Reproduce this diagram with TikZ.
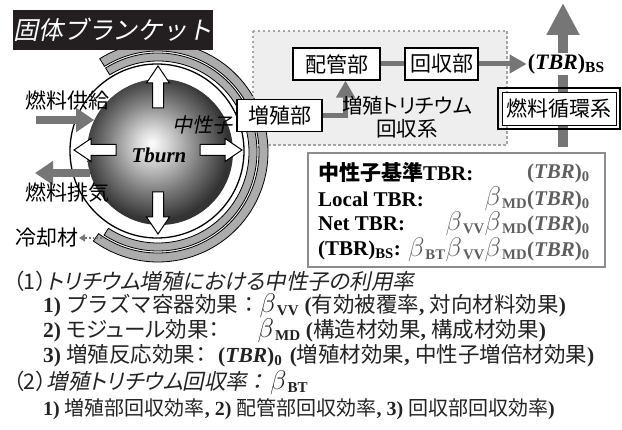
\documentclass[tikz,border=0pt]{standalone}
\usepackage{fontspec}
\setmainfont{Liberation Serif}[UprightFont=* Bold, ItalicFont=* Bold Italic,
  BoldFont=* Bold, BoldItalicFont=* Bold Italic]
\newfontfamily\jpfont{Noto Sans CJK JP}[RawFeature={+palt}]
\newfontfamily\jpwide{Noto Sans CJK JP}
\newfontfamily\jpslant{Noto Sans CJK JP}[FakeSlant=0.21,RawFeature={+palt}]
\newfontfamily\jptitle{Noto Sans CJK JP}[FakeSlant=0.21]
\usetikzlibrary{arrows.meta,positioning,calc}

\definecolor{titleblack}{RGB}{35,31,32}
\definecolor{flowgray}{RGB}{118,118,118}
\definecolor{bandgray}{RGB}{172,172,172}
\definecolor{boxfill}{RGB}{238,238,238}
\definecolor{dotgray}{RGB}{165,165,165}
\definecolor{framegray}{RGB}{140,140,140}
\definecolor{exprgray}{RGB}{95,95,95}
\definecolor{inkgray}{RGB}{35,35,35}

\pgfdeclareradialshading{plasmashade}{\pgfpoint{-3bp}{3bp}}{color(0bp)=(white); color(6bp)=(black!18); color(16bp)=(black!52); color(25bp)=(black!80); color(50bp)=(black!80)}

\newcommand\tbrsub[1]{(\textit{TBR})\textsubscript{#1}}
\newcommand\betasub[1]{\scalebox{1.3}{$\beta$}\kern1pt\textsubscript{#1}}

\begin{document}
\begin{tikzpicture}[x=1pt, y=-1pt,
    jp/.style={font=\jpfont\fontsize{21}{25}\selectfont},
    partbox/.style={draw, line width=1.2pt, fill=white, inner sep=0pt, minimum height=32pt, jp},
    flowline/.style={draw=flowgray, line width=5pt},
    flowarrow/.style={flowline, -{Triangle[width=18pt,length=17pt]}},
    fuelarrow/.style={draw=flowgray, line width=8pt, -{Triangle[width=23pt,length=18pt]}},
    band/.style={draw, line width=0.8pt, fill=bandgray},
    outarrow/.style={draw, line width=1pt, fill=white, line join=miter},
    tabletext/.style={font=\fontsize{21}{23}\selectfont, inner sep=0pt},
    listtext/.style={font=\fontsize{21.5}{23}\selectfont, text=inkgray, inner sep=0pt, anchor=west},
  ]
  \useasboundingbox (0,0) rectangle (622,430);

  % recovery system background
  \node[fill=boxfill, minimum width=254pt, minimum height=114pt, inner sep=0pt] (recovery) at (380,88) {};

  % blanket layers
  \coordinate (blanketc) at (158,152);
  \draw[band] (blanketc) ++(-122:110) arc[start angle=-122, end angle=126, radius=110]
    -- ++(126:-9) arc[start angle=126, end angle=-122, radius=101] -- cycle;
  \draw[band] (blanketc) ++(-122:99) arc[start angle=-122, end angle=123, radius=99]
    -- ++(123:-8) arc[start angle=123, end angle=-122, radius=91] -- cycle;
  \draw[dotgray, line width=2.5pt, dash pattern=on 2.5pt off 2.5pt] (recovery.north west) rectangle (recovery.south east);

  % first wall and burning plasma
  \draw[line width=1.3pt, fill=white] (157,151) circle[radius=87];
  \node[circle, minimum size=146pt, inner sep=0pt, shade, shading=plasmashade] (plasma) at (160,152) {};
  \node[font=\itshape\fontsize{21}{22}\selectfont] (tburn) at (159,155) {Tburn};
  \foreach \a in {0,90,180,270}
    \draw[outarrow, shift={(158,150)}, rotate=\a] (42,-5.5) -- (67,-5.5) -- (67,-11.5) -- (84,0)
      -- (67,11.5) -- (67,5.5) -- (42,5.5) -- cycle;
  \node[font=\jpslant\fontsize{20}{21}\selectfont] (neutron) at (202,125) {中性子};

  % title plate
  \node[fill=titleblack, text=white, minimum width=200pt, minimum height=40pt, inner sep=0pt,
    font=\jptitle\fontsize{25}{27}\selectfont] (title) at (113,30) {固体ブランケット};

  % fuel in / out, coolant
  \coordinate (feedin) at (36,120);
  \coordinate (exhaustout) at (35,173);
  \draw[fuelarrow] (feedin) -- (feedin -| plasma.154);
  \draw[fuelarrow] (exhaustout -| plasma.198) -- (exhaustout);
  \node[jp] (feedlabel) at (68,100) {燃料供給};
  \node[jp] (exhaustlabel) at (68,193) {燃料排気};
  \node[jp, anchor=east, inner sep=0pt] (coolant) at (79,238) {冷却材};
  \coordinate (coolantout) at (102,238);
  \draw[flowgray, line width=1.8pt, dotted, -{Triangle[width=7pt,length=6pt]}] (coolantout) -- (coolant.east);

  % tritium recovery chain
  \node[partbox, minimum width=85pt] (breeder) at (279.5,115.5) {増殖部};
  \node[partbox, minimum width=87pt] (piping) at (336.5,64) {配管部};
  \node[partbox, minimum width=73pt] (collector) at (441.5,64) {回収部};
  \draw[flowline] (piping) -- (collector);
  \draw[flowarrow] (breeder.east) -| ([xshift=9pt]piping.south);
  \node[align=center, font=\jpfont\fontsize{20.5}{23}\selectfont] (recoverylabel) at (407,117) {増殖トリチウム\\回収系};

  % fuel cycle
  \coordinate (cyclebottom) at (563,147);
  \coordinate (cycletop) at (563,3);
  \draw[draw=flowgray, line width=10pt, -{Triangle[width=31pt,length=32pt]}] (cyclebottom) -- (cycletop);
  \node[fill=white, inner sep=1pt, font=\fontsize{22}{24}\selectfont, right=48pt of collector] (tbrbs) {\tbrsub{BS}};
  \draw[flowarrow] (collector) -- (tbrbs);
  \node[draw, line width=0.8pt, fill=white, minimum width=114pt, minimum height=33pt, inner sep=0pt, jp] (fuelcycle) at (559,108.5) {燃料循環系};
  \draw[line width=2.5pt] ([shift={(-3.5pt,-3.5pt)}]fuelcycle.south west) rectangle ([shift={(3.5pt,3.5pt)}]fuelcycle.north east);

  % TBR definitions
  \node[draw=framegray, line width=1.5pt, fill=white, minimum width=297pt, minimum height=114pt, inner sep=0pt] (tbrtable) at (456.5,210) {};
  \node[tabletext, anchor=west] (name0) at (318,173) {{\jpfont\bfseries 中性子基準}TBR:};
  \node[tabletext, anchor=west] (name1) at (318,199) {Local TBR:};
  \node[tabletext, anchor=west] (name2) at (318,224) {Net TBR:};
  \node[tabletext, anchor=west] (name3) at (318,250) {(TBR)\textsubscript{BS}:};
  \node[tabletext, anchor=east, text=exprgray] (expr0) at (590,173) {\tbrsub{0}};
  \node[tabletext, anchor=east, text=exprgray] (expr1) at (590,199) {\betasub{MD}\tbrsub{0}};
  \node[tabletext, anchor=east, text=exprgray] (expr2) at (590,224) {\betasub{VV}\betasub{MD}\tbrsub{0}};
  \node[tabletext, anchor=east, text=exprgray] (expr3) at (590,250) {\betasub{BT}\betasub{VV}\betasub{MD}\tbrsub{0}};

  % factor list
  \node[listtext] (item1) at (13,281) {{\jpfont （1）}{\jpslant トリチウム増殖における中性子の利用率}};
  \node[listtext] (item11) at (43,306) {1) {\jpwide プラズマ容器効果：}\betasub{VV} ({\jpfont 有効被覆率}, {\jpfont 対向材料効果})};
  \node[listtext] (item12) at (43,331) {2) {\jpfont モジュール効果：}\hspace{38pt}\betasub{MD} ({\jpfont 構造材効果}, {\jpfont 構成材効果})};
  \node[listtext] (item13) at (43,356) {3) {\jpfont 増殖反応効果：}\hspace{12pt}\tbrsub{0} \hspace{2pt}({\jpfont 増殖材効果}, {\jpfont 中性子増倍材効果})};
  \node[listtext] (item2) at (13,383) {{\jpfont （2）}{\jpslant 増殖トリチウム回収率}\hspace{4pt}{\jpslant ：}\hspace{8pt}\betasub{BT}};
  \node[listtext, font=\fontsize{20}{22}\selectfont] (item21) at (43,409) {1) {\jpfont 増殖部回収効率}, 2) {\jpfont 配管部回収効率}, 3) {\jpfont 回収部回収効率})};
\end{tikzpicture}
\end{document}
